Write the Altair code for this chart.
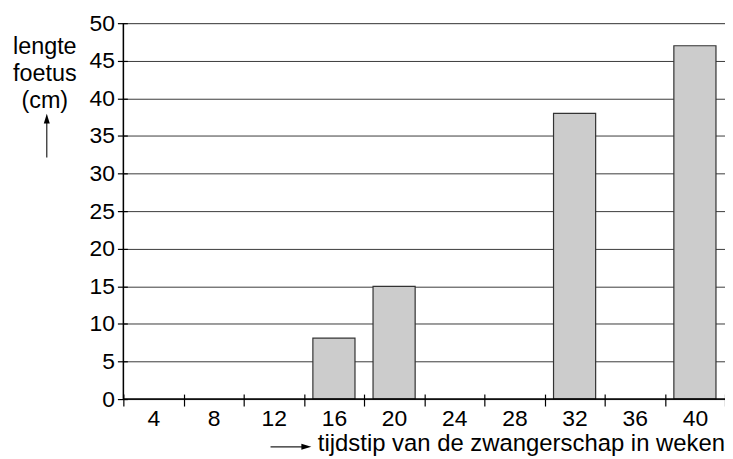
import altair as alt
import pandas as pd

# ---- data ----
weeks = ["4", "8", "12", "16", "20", "24", "28", "32", "36", "40"]
bar_weeks = ["16", "20", "32", "40"]
bar_lengths = [8.1, 15, 38, 47]
y_ticks = [0, 5, 10, 15, 20, 25, 30, 35, 40, 45, 50]
y_title_lines = ["lengte", "foetus", "(cm)"]
x_title = "tijdstip van de zwangerschap in weken"

FONT = "Liberation Sans"
W, H = 605, 378

df = pd.DataFrame({"week": bar_weeks, "length": bar_lengths})
one = pd.DataFrame({"a": [0]})

x_enc = alt.X(
    "week:N",
    sort=weeks,
    scale=alt.Scale(domain=weeks, paddingInner=0, paddingOuter=0),
    axis=alt.Axis(
        title=None, labelAngle=0, domain=False, grid=False,
        tickBand="extent", tickSize=12, offset=-5, tickColor="black",
        tickWidth=1.2, labelPadding=2, labelFontSize=23, labelFont=FONT,
        labelColor="black",
    ),
)
y_enc = alt.Y(
    "length:Q",
    scale=alt.Scale(domain=[0, 50], nice=False),
    axis=alt.Axis(
        title=None, values=y_ticks, domain=False, grid=True,
        gridColor="#3a3a3a", gridWidth=1, tickSize=10, offset=-4,
        tickColor="black", tickWidth=1.2, labelPadding=3, labelFontSize=23,
        labelFont=FONT, labelColor="black",
    ),
)

bars = alt.Chart(df).mark_bar(
    fill="#cccccc", stroke="#333333", strokeWidth=1.2,
    width=alt.RelativeBandSize(0.7),
).encode(x=x_enc, y=y_enc)

left_domain = alt.Chart(one).mark_rule(color="black", strokeWidth=1.5).encode(
    x=alt.value(0), y=alt.value(0), y2=alt.value(H)
)
bottom_domain = alt.Chart(one).mark_rule(color="black", strokeWidth=1.5).encode(
    y=alt.value(H), x=alt.value(0), x2=alt.value(W)
)

y_title = alt.Chart(one).mark_text(
    align="center", baseline="alphabetic", fontSize=23.5, lineHeight=27,
    font=FONT, color="black",
).encode(x=alt.value(-79), y=alt.value(31), text=alt.value(y_title_lines))

y_arrow = alt.Chart(one).mark_rule(color="#222222", strokeWidth=1.2).encode(
    x=alt.value(-77), y=alt.value(96), y2=alt.value(135)
)
y_head = alt.Chart(one).mark_point(
    shape="M0,-1L0.6,1L-0.6,1Z", filled=True, size=100, color="black", opacity=1
).encode(x=alt.value(-77), y=alt.value(96))

x_title_txt = alt.Chart(one).mark_text(
    align="right", baseline="alphabetic", fontSize=24, font=FONT, color="black"
).encode(x=alt.value(W), y=alt.value(430), text=alt.value(x_title))

x_arrow = alt.Chart(one).mark_rule(color="#222222", strokeWidth=1.2).encode(
    x=alt.value(148), x2=alt.value(184), y=alt.value(426)
)
x_head = alt.Chart(one).mark_point(
    shape="M1,0L-1,0.6L-1,-0.6Z", filled=True, size=100, color="black", opacity=1
).encode(x=alt.value(184), y=alt.value(426))

chart = alt.layer(
    bars, left_domain, bottom_domain, y_title, y_arrow, y_head,
    x_title_txt, x_arrow, x_head,
).properties(
    width=W, height=H,
    autosize=alt.AutoSizeParams(type="none"),
    padding={"left": 116, "top": 14, "right": 0, "bottom": 58},
).configure_view(stroke=None).configure(font=FONT)

chart.save("out.html", embed_options={"renderer": "svg", "actions": False})
